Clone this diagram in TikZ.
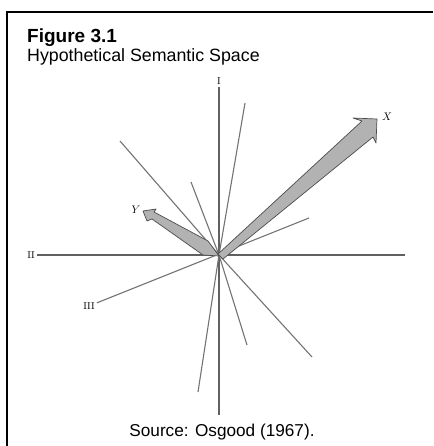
\documentclass[tikz,border=0pt]{standalone}
\usepackage{fontspec}
\newfontfamily\capfont{Liberation Sans}
\usetikzlibrary{positioning}
\tikzset{
  ray/.style     = {draw=black!55, line width=1.1pt},
  axis/.style    = {draw=black!62, line width=1.2pt},
  wedge/.style   = {draw=black!70, fill=black!30, line width=0.7pt, line join=round},
  numlab/.style  = {font=\fontsize{10}{11}\selectfont, inner sep=2pt},
  veclab/.style  = {font=\fontsize{11}{12}\selectfont, inner sep=1pt},
  frame/.style   = {draw=black, line width=2pt},
  captext/.style = {anchor=base west, inner sep=0pt, font=\capfont\fontsize{17.8}{20}\selectfont},
}

\begin{document}
\begin{tikzpicture}[x=1pt, y=-1pt]

  \useasboundingbox (0,0) rectangle (433,446);

  % ── Frame (top and left edges only) ─────────────────────────────
  \draw[frame] (433,12) -- (7,12) -- (7,446);

  % ── Caption ─────────────────────────────────────────────────────
  \node[captext, font=\capfont\bfseries\fontsize{19}{22}\selectfont]
    (fig) at (27,43) {Figure 3.1};
  \node[captext] (sub) at (27,62) {Hypothetical Semantic Space};
  \node[captext, anchor=base, font=\capfont\fontsize{17.2}{20}\selectfont]
    (src) at (222,436) {Source: Osgood (1967).};

  % ── Origin and free ends of the rays ────────────────────────────
  \coordinate (ctr) at (219,255);
  \coordinate (sI)   at (219,415);
  \coordinate (eII)  at (405,255);
  \coordinate (eIII) at (309,218);
  \coordinate (r1) at (245,103);
  \coordinate (r2) at (198,392);
  \coordinate (r3) at (120,141);
  \coordinate (r4) at (312,357);
  \coordinate (r5) at (191,182);
  \coordinate (r6) at (247,345);

  % ── Axis labels ─────────────────────────────────────────────────
  \node[numlab] (lI)   at (219,81)  {I};
  \node[numlab] (lII)  at (31,255)  {II};
  \node[numlab] (lIII) at (89,306)  {III};

  % ── Axes ────────────────────────────────────────────────────────
  \draw[axis] (lI) -- (sI);
  \draw[axis] (lII) -- (eII);
  \draw[ray]  (lIII) -- (eIII);

  % ── Other directions through the origin ─────────────────────────
  \foreach \r in {r1,r2,r3,r4,r5,r6}
    \draw[ray] (ctr) -- (\r);

  % ── Concept vectors ─────────────────────────────────────────────
  \coordinate (tipX) at (377,119);
  \coordinate (tipY) at (143,211);

  \draw[wedge] (218,254) -- (362,121) -- (353,118) -- (tipX)
               -- (376,143) -- (373,137) -- (223,259) -- cycle;
  \draw[wedge] (219,256) -- (208,241) -- (154,212) -- (156,209) -- (tipY)
               -- (147,221) -- (152,219) -- (203,255) -- cycle;

  \node[veclab] (lX) at (387,117) {$X$};
  \node[veclab] (lY) at (136,210) {$Y$};

\end{tikzpicture}
\end{document}
